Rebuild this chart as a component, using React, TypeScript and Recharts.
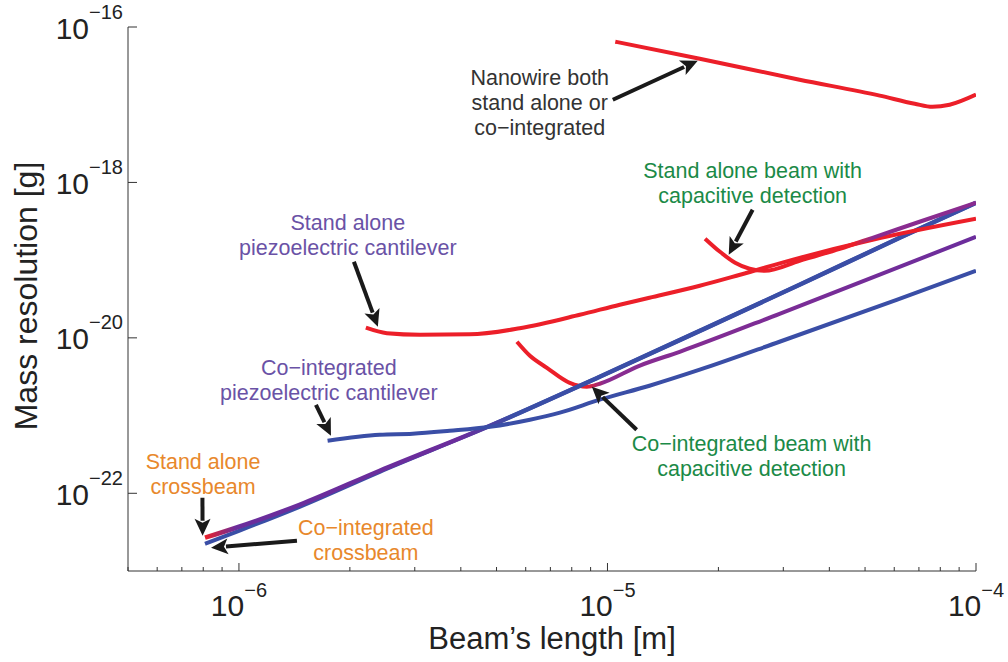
import React from 'react'
import { LineChart, Line, XAxis, YAxis, ReferenceLine, ReferenceDot, Label } from 'recharts'

const FONT = '"Liberation Sans", Arial, Helvetica, sans-serif'

// axes
const xDomain = [5e-7, 1e-4]
const yDomain = [1e-23, 1e-16]
const xTicks = [
  5e-7, 6e-7, 7e-7, 8e-7, 9e-7,
  1e-6, 2e-6, 3e-6, 4e-6, 5e-6, 6e-6, 7e-6, 8e-6, 9e-6,
  1e-5, 2e-5, 3e-5, 4e-5, 5e-5, 6e-5, 7e-5, 8e-5, 9e-5,
  1e-4,
]
const yTicks = [1e-22, 1e-20, 1e-18, 1e-16]

// nanowire (stand alone or co-integrated)
const nanowireX = [1.05e-5, 1.78e-5, 3.32e-5, 5.48e-5, 6.82e-5, 7.62e-5, 8.48e-5, 1e-4]
const nanowireY = [6.47e-17, 3.91e-17, 2.1e-17, 1.31e-17, 1.03e-17, 9.4e-18, 1.0e-17, 1.35e-17]

// stand alone piezoelectric cantilever
const saPiezoX = [2.21e-6, 2.52e-6, 3.1e-6, 4.23e-6, 5.78e-6, 8.41e-6, 1.08e-5, 1.3e-5, 1.78e-5, 2.29e-5, 3.32e-5, 5.24e-5, 1e-4]
const saPiezoY = [1.35e-20, 1.15e-20, 1.1e-20, 1.11e-20, 1.33e-20, 1.98e-20, 2.67e-20, 3.28e-20, 4.68e-20, 6.49e-20, 1.07e-19, 1.83e-19, 3.41e-19]

// co-integrated piezoelectric cantilever
const ciPiezoX = [1.74e-6, 2.41e-6, 2.96e-6, 3.73e-6, 4.8e-6, 6.16e-6, 7.43e-6, 9.53e-6, 1.3e-5, 1.78e-5, 2.93e-5, 6.09e-5, 1e-4]
const ciPiezoY = [4.74e-22, 5.66e-22, 5.83e-22, 6.37e-22, 7.18e-22, 8.83e-22, 1.09e-21, 1.6e-21, 2.42e-21, 3.89e-21, 8.91e-21, 3.09e-20, 7.3e-20]

// co-integrated beam, capacitive detection
const ciCapX = [5.68e-6, 6.16e-6, 6.85e-6, 7.9e-6, 8.79e-6, 9.53e-6, 1.22e-5, 1.57e-5, 2.93e-5, 5.48e-5, 1e-4]
const ciCapY = [8.91e-21, 5.88e-21, 4.12e-21, 2.64e-21, 2.35e-21, 2.57e-21, 4.37e-21, 6.62e-21, 2.04e-20, 6.49e-20, 2.0e-19]

// stand alone beam, capacitive detection
const saCapX = [1.84e-5, 2.02e-5, 2.22e-5, 2.43e-5, 2.67e-5, 3.32e-5, 4.27e-5, 5.24e-5, 7.03e-5, 1e-4]
const saCapY = [1.89e-19, 1.28e-19, 9.26e-20, 7.75e-20, 7.3e-20, 9.82e-20, 1.4e-19, 1.94e-19, 3.12e-19, 5.48e-19]

// crossbeams
const crossX = [8.09e-7, 1.0e-6, 1.46e-6, 2.41e-6, 4.8e-6, 9.53e-6, 1.78e-5, 3.32e-5, 6.21e-5, 1e-4]
const saCrossY = [2.68e-23, 3.71e-23, 7.11e-23, 1.95e-22, 7.39e-22, 3.16e-21, 1.23e-20, 4.82e-20, 1.94e-19, 5.48e-19]
const ciCrossY = [2.24e-23, 3.29e-23, 6.7e-23, 1.89e-22, 7.39e-22, 3.16e-21, 1.23e-20, 4.82e-20, 1.94e-19, 5.48e-19]

// annotations
const noteText = [
  ['Nanowire both', 'stand alone or', 'co\u2212integrated'],
  ['Stand alone beam with', 'capacitive detection'],
  ['Stand alone', 'piezoelectric cantilever'],
  ['Co\u2212integrated', 'piezoelectric cantilever'],
  ['Co\u2212integrated beam with', 'capacitive detection'],
  ['Stand alone', 'crossbeam'],
  ['Co\u2212integrated', 'crossbeam'],
]
const noteX = [6.55e-6, 2.477e-5, 1.975e-6, 1.754e-6, 2.461e-5, 7.99e-7, 2.21e-6]
const noteY = [1.06e-17, 9.76e-19, 2.09e-19, 2.89e-21, 2.99e-22, 1.756e-22, 2.52e-23]
const noteColor = ['#333333', '#1b8a47', '#6a52a6', '#6a52a6', '#1b8a47', '#e8882c', '#e8882c']

// arrows: tail -> head
const arrowX1 = [1.034e-5, 2.477e-5, 2.051e-6, 1.618e-6, 1.2e-5, 7.96e-7, 1.437e-6]
const arrowY1 = [1.16e-17, 4.45e-19, 9.54e-20, 1.377e-21, 6.57e-22, 8.75e-23, 2.45e-23]
const arrowX2 = [1.758e-5, 2.133e-5, 2.382e-6, 1.777e-6, 9.07e-6, 7.97e-7, 8.4e-7]
const arrowY2 = [3.68e-17, 1.174e-19, 1.39e-20, 5.5e-22, 2.35e-21, 2.84e-23, 1.99e-23]

const zip = (xs: number[], ys: number[]) => xs.map((x, i) => ({ x, y: ys[i] }))

const RED = '#ec1f29'
const BLUE = '#3a4ea6'
const PURPLE = '#6b2d9c'
const MAGENTA = '#8a2c90'

const isDecade = (v: number) => {
  const e = Math.log10(v)
  return Math.abs(e - Math.round(e)) < 1e-6
}

const XTick = (p: any) => {
  const { x, y, payload } = p
  const major = isDecade(payload.value)
  const e = Math.round(Math.log10(payload.value))
  return (
    <g>
      <line x1={x} x2={x} y1={y} y2={y - (major ? 8 : 4)} stroke="#333" strokeWidth={1} />
      {major && (
        <text x={x} y={y + 45} textAnchor="middle" fontSize={30} fill="#222" fontFamily={FONT}>
          <tspan>10</tspan>
          <tspan dy={-19} fontSize={20}>{'\u2212' + Math.abs(e)}</tspan>
        </text>
      )}
    </g>
  )
}

const YTick = (p: any) => {
  const { x, y, payload } = p
  const e = Math.round(Math.log10(payload.value))
  return (
    <g>
      <line x1={x} x2={x + 9} y1={y} y2={y} stroke="#333" strokeWidth={1} />
      <text x={x - 5} y={y + 11.5} textAnchor="end" fontSize={30} fill="#222" fontFamily={FONT}>
        <tspan>10</tspan>
        <tspan dy={-20} fontSize={20}>{'\u2212' + Math.abs(e)}</tspan>
      </text>
    </g>
  )
}

const XTitle = (p: any) => {
  const vb = p.viewBox ?? { x: 128, y: 571, width: 848, height: 91 }
  return (
    <text x={vb.x + vb.width / 2} y={vb.y + 78} textAnchor="middle" fontSize={31} fill="#222" fontFamily={FONT}>
      Beam’s length [m]
    </text>
  )
}

const YTitle = (p: any) => {
  const vb = p.viewBox ?? { x: 0, y: 27, width: 128, height: 544 }
  const cx = vb.x + 37
  const cy = vb.y + vb.height / 2 - 3
  return (
    <text x={cx} y={cy} transform={`rotate(-90, ${cx}, ${cy})`} textAnchor="middle" fontSize={32} fill="#222" fontFamily={FONT}>
      Mass resolution [g]
    </text>
  )
}

const Arrow = (p: any) => {
  const { x1, y1, x2, y2 } = p
  const a = Math.atan2(y2 - y1, x2 - x1)
  const L = 17
  const W = 8
  const bx = x2 - L * Math.cos(a)
  const by = y2 - L * Math.sin(a)
  const nx = -Math.sin(a) * W
  const ny = Math.cos(a) * W
  return (
    <g>
      <line x1={x1} y1={y1} x2={bx + 2 * Math.cos(a)} y2={by + 2 * Math.sin(a)} stroke="#1a1a1a" strokeWidth={4} />
      <polygon points={`${x2},${y2} ${bx + nx},${by + ny} ${bx + 4 * Math.cos(a)},${by + 4 * Math.sin(a)} ${bx - nx},${by - ny}`} fill="#1a1a1a" />
    </g>
  )
}

const note = (lines: string[], color: string) => (p: any) => (
  <text textAnchor="middle" fontSize={21.5} fill={color} fontFamily={FONT}>
    {lines.map((l, i) => (
      <tspan key={i} x={p.cx} y={p.cy + (i - (lines.length - 1) / 2) * 25 + 7.5}>
        {l}
      </tspan>
    ))}
  </text>
)

export default function App() {
  return (
    <div style={{ position: 'absolute', left: 0, top: 0, width: 1008, height: 662, background: '#fff' }}>
      <LineChart width={1008} height={662} margin={{ top: 27, right: 32, bottom: 0, left: 0 }} style={{ fontFamily: FONT }}>
        <defs>
          <linearGradient id="saCross" x1="0" y1="0" x2="1" y2="0">
            <stop offset="0%" stopColor={RED} />
            <stop offset="4%" stopColor={PURPLE} />
            <stop offset="33%" stopColor={PURPLE} />
            <stop offset="40%" stopColor={BLUE} />
            <stop offset="100%" stopColor={BLUE} />
          </linearGradient>
          <linearGradient id="ciCap" x1="0" y1="0" x2="1" y2="0">
            <stop offset="0%" stopColor={RED} />
            <stop offset="15%" stopColor={RED} />
            <stop offset="19%" stopColor={MAGENTA} />
            <stop offset="100%" stopColor={PURPLE} />
          </linearGradient>
          <linearGradient id="saCap" x1="0" y1="0" x2="1" y2="0">
            <stop offset="0%" stopColor={RED} />
            <stop offset="55%" stopColor={RED} />
            <stop offset="62%" stopColor={MAGENTA} />
            <stop offset="100%" stopColor={MAGENTA} />
          </linearGradient>
        </defs>
        <XAxis
          type="number"
          dataKey="x"
          scale="log"
          domain={xDomain}
          allowDataOverflow
          ticks={xTicks}
          interval={0}
          tick={XTick}
          tickLine={false}
          tickSize={0}
          tickMargin={0}
          axisLine={{ stroke: '#333' }}
          height={91}
        >
          <Label content={XTitle} />
        </XAxis>
        <YAxis
          type="number"
          scale="log"
          domain={yDomain}
          allowDataOverflow
          ticks={yTicks}
          interval={0}
          tick={YTick}
          tickLine={false}
          tickSize={0}
          tickMargin={0}
          axisLine={{ stroke: '#333' }}
          width={128}
        >
          <Label content={YTitle} />
        </YAxis>

        <Line data={zip(ciCapX, ciCapY)} dataKey="y" type="monotone" stroke="url(#ciCap)" strokeWidth={4} dot={false} isAnimationActive={false} />
        <Line data={zip(crossX, ciCrossY)} dataKey="y" type="monotone" stroke={BLUE} strokeWidth={4} dot={false} isAnimationActive={false} />
        <Line data={zip(crossX, saCrossY)} dataKey="y" type="monotone" stroke="url(#saCross)" strokeWidth={4.5} dot={false} isAnimationActive={false} />
        <Line data={zip(ciPiezoX, ciPiezoY)} dataKey="y" type="monotone" stroke={BLUE} strokeWidth={4} dot={false} isAnimationActive={false} />
        <Line data={zip(saPiezoX, saPiezoY)} dataKey="y" type="monotone" stroke={RED} strokeWidth={4} dot={false} isAnimationActive={false} />
        <Line data={zip(saCapX, saCapY)} dataKey="y" type="monotone" stroke="url(#saCap)" strokeWidth={4} dot={false} isAnimationActive={false} />
        <Line data={zip(nanowireX, nanowireY)} dataKey="y" type="monotone" stroke={RED} strokeWidth={4} dot={false} isAnimationActive={false} />

        {arrowX1.map((x1, i) => (
          <ReferenceLine
            key={'a' + i}
            segment={[
              { x: x1, y: arrowY1[i] },
              { x: arrowX2[i], y: arrowY2[i] },
            ]}
            shape={Arrow}
          />
        ))}
        {noteText.map((lines, i) => (
          <ReferenceDot key={'n' + i} x={noteX[i]} y={noteY[i]} r={1} shape={note(lines, noteColor[i])} />
        ))}
      </LineChart>
    </div>
  )
}
